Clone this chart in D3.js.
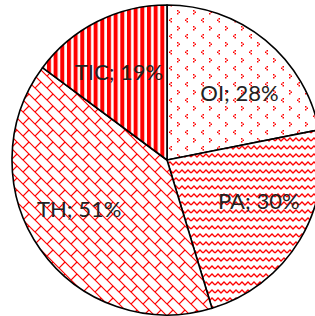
<!DOCTYPE html>
<html>
<head>
<meta charset="utf-8">
<script src="https://cdn.jsdelivr.net/npm/d3@7"></script>
<style>
  html, body { margin: 0; padding: 0; background: #fff; overflow: hidden; }
</style>
</head>
<body>
<div id="chart"></div>
<script>
// slice data, clockwise from 12 o'clock
const categories = ['OI', 'PA', 'TH', 'TIC'];
const values = [28, 30, 51, 19];
const percentLabels = ['28%', '30%', '51%', '19%'];

const width = 315;
const height = 316;
const cx = 167;
const cy = 160;
const radius = 155;
// best-fit nudges of the data labels away from the plain centroid
const labelNudge = { OI: [9, 10], PA: [6, -11], TH: [-6, -9], TIC: [-3, 1] };

const svg = d3.select('#chart')
  .append('svg')
  .attr('width', width)
  .attr('height', height);

const defs = svg.append('defs');
const red = '#ff0000';

function makePattern(id, w, h) {
  const p = defs.append('pattern')
    .attr('id', id)
    .attr('patternUnits', 'userSpaceOnUse')
    .attr('width', w).attr('height', h);
  p.append('rect').attr('width', w).attr('height', h).attr('fill', '#fff');
  return p;
}

// small chevron dots
const pOI = makePattern('pat-OI', 16, 16);
const px = 1.5;
[[1, 0], [0, 1], [1, 2]].forEach(([x, y]) => {
  pOI.append('rect').attr('x', 2 + x * px).attr('y', 2 + y * px).attr('width', px).attr('height', px).attr('fill', red);
});
[[0, 0], [1, 1], [0, 2]].forEach(([x, y]) => {
  pOI.append('rect').attr('x', 10 + x * px).attr('y', 10 + y * px).attr('width', px).attr('height', px).attr('fill', red);
});

// wave
const pPA = makePattern('pat-PA', 12, 8);
pPA.append('path')
  .attr('d', 'M0,5 L3,2 L6,5 L9,2 L12,5')
  .attr('fill', 'none')
  .attr('stroke', red)
  .attr('stroke-width', 1.3);

// diagonal brick
const pTH = makePattern('pat-TH', 12, 12);
pTH.append('path')
  .attr('d', 'M0,0 L12,12 M6,6 L0,12 M-1,11 L1,13 M11,-1 L13,1')
  .attr('fill', 'none')
  .attr('stroke', red)
  .attr('stroke-width', 1.2);

// wide vertical stripes
const pTIC = makePattern('pat-TIC', 6.67, 10);
pTIC.append('rect').attr('width', 4).attr('height', 10).attr('fill', red);

const pie = d3.pie().sort(null).value(d => d.value);
const data = categories.map((c, i) => ({ name: c, value: values[i], pct: percentLabels[i] }));
const arcs = pie(data);

const arc = d3.arc().innerRadius(0).outerRadius(radius);
const labelArc = d3.arc().innerRadius(100).outerRadius(100);

const g = svg.append('g').attr('transform', `translate(${cx},${cy})`);

g.selectAll('path.slice')
  .data(arcs)
  .join('path')
  .attr('class', 'slice')
  .attr('d', arc)
  .attr('fill', d => `url(#pat-${d.data.name})`)
  .attr('stroke', '#000')
  .attr('stroke-width', 1.6)
  .attr('stroke-linejoin', 'round');

g.selectAll('text.label')
  .data(arcs)
  .join('text')
  .attr('class', 'label')
  .attr('transform', d => {
    const [x, y] = labelArc.centroid(d);
    const [dx, dy] = labelNudge[d.data.name];
    return `translate(${x + dx},${y + dy})`;
  })
  .attr('text-anchor', 'middle')
  .attr('dominant-baseline', 'central')
  .attr('font-family', 'Lato, "Open Sans", sans-serif')
  .attr('font-size', 22)
  .attr('fill', '#222')
  .text(d => `${d.data.name}; ${d.data.pct}`);
</script>
</body>
</html>
